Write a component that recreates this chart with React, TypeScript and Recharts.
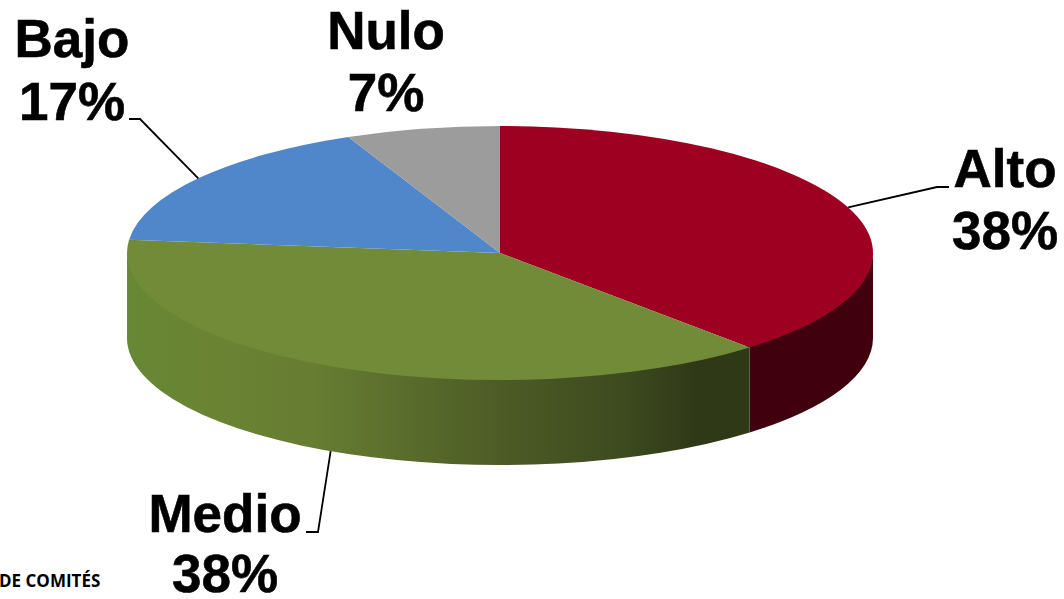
import React from "react";
import { PieChart, Pie } from "recharts";

const categories = ["Alto", "Medio", "Bajo", "Nulo"];
const counts = [23, 23, 10, 4];
const topColors = ["#9e0021", "#728b38", "#5087ca", "#9c9c9c"];
const wallColors = ["#40000e", "url(#medioWall)", "none", "none"];

const rows = categories.map((name, i) => ({ name, value: counts[i], fill: topColors[i], wall: wallColors[i] }));

const WIDTH = 1064;
const HEIGHT = 599;
const CX = 500;
const CY = 253;
const RX = 373;
const RY = 127;
const DEPTH = 85;
const SQUASH = RY / RX;
const RAD = Math.PI / 180;

const labelLayout: Record<string, { x: number; y: number; gap: number; elbow: [number, number]; end: [number, number]; onWall?: boolean }> = {
  Alto: { x: 1005, y: 187, gap: 62, elbow: [937, 187], end: [949, 187] },
  Medio: { x: 225, y: 532, gap: 60, elbow: [318, 532], end: [306, 532], onWall: true },
  Bajo: { x: 72, y: 57, gap: 63, elbow: [140, 119], end: [129, 119] },
  Nulo: { x: 386, y: 49, gap: 62, elbow: [0, 0], end: [0, 0] },
};

function EllipseSector(props: any) {
  const { cx, cy, outerRadius, startAngle, endAngle, fill, payload } = props;
  const rx = outerRadius;
  const ry = outerRadius * SQUASH;
  const px = (a: number) => cx + rx * Math.cos(a * RAD);
  const py = (a: number) => cy - ry * Math.sin(a * RAD);
  const large = Math.abs(endAngle - startAngle) > 180 ? 1 : 0;
  const top = `M${cx},${cy}L${px(startAngle)},${py(startAngle)}A${rx},${ry} 0 ${large} 1 ${px(endAngle)},${py(endAngle)}Z`;
  const a1 = Math.min(startAngle, 0);
  const a2 = Math.max(endAngle, -180);
  const wallFill = payload?.wall ?? props.wall;
  const wall =
    wallFill !== "none" && a1 > a2
      ? `M${px(a1)},${py(a1) - 2}A${rx},${ry} 0 0 1 ${px(a2)},${py(a2) - 2}L${px(a2)},${py(a2) + DEPTH}A${rx},${ry} 0 0 0 ${px(a1)},${py(a1) + DEPTH}Z`
      : null;
  return (
    <g>
      <defs>
        <linearGradient id="medioWall" gradientUnits="userSpaceOnUse" x1={127} x2={750} y1={0} y2={0}>
          <stop offset="0" stopColor="#688835" />
          <stop offset="0.17" stopColor="#6a8233" />
          <stop offset="0.3" stopColor="#667d32" />
          <stop offset="0.45" stopColor="#5a6c2c" />
          <stop offset="0.62" stopColor="#4b5a25" />
          <stop offset="0.8" stopColor="#3d4a1f" />
          <stop offset="0.92" stopColor="#2f3817" />
          <stop offset="1" stopColor="#2f3817" />
        </linearGradient>
      </defs>
      {wall && <path d={wall} fill={wallFill} stroke="none" />}
      <path d={top} fill={fill} stroke="none" />
    </g>
  );
}

function SliceLabel(props: any) {
  const { cx, cy, outerRadius, midAngle, percent, name } = props;
  const layout = labelLayout[name];
  const rx = outerRadius;
  const ry = outerRadius * SQUASH;
  const sx = cx + rx * Math.cos(midAngle * RAD);
  const sy = cy - ry * Math.sin(midAngle * RAD) + (layout.onWall ? DEPTH : 0);
  const pct = `${Math.round(percent * 100)}%`;
  const textStyle = {
    fontFamily: "'Liberation Sans', Arial, sans-serif",
    fontWeight: 700,
    fontSize: 53,
    fill: "#000",
    stroke: "#000",
    strokeWidth: 0.6,
  };
  return (
    <g>
      {name !== "Nulo" && (
        <polyline
          points={`${sx},${sy} ${layout.elbow[0]},${layout.elbow[1]} ${layout.end[0]},${layout.end[1]}`}
          fill="none"
          stroke="#000"
          strokeWidth={1.8}
        />
      )}
      <text x={layout.x} y={layout.y} textAnchor="middle" style={textStyle}>{name}</text>
      <text x={layout.x} y={layout.y + layout.gap} textAnchor="middle" style={textStyle}>{pct}</text>
    </g>
  );
}

export default function App() {
  return (
    <div style={{ position: "absolute", left: 0, top: 0, width: WIDTH, height: HEIGHT, overflow: "hidden", background: "#fff" }}>
      <PieChart width={WIDTH} height={HEIGHT} margin={{ top: 0, right: 0, bottom: 0, left: 0 }}>
        <Pie
          data={rows}
          dataKey="value"
          nameKey="name"
          cx={CX}
          cy={CY}
          innerRadius={0}
          outerRadius={RX}
          startAngle={90}
          endAngle={-270}
          stroke="none"
          isAnimationActive={false}
          shape={EllipseSector}
          label={SliceLabel}
          labelLine={false}
        />
        <text x={-1} y={587} style={{ fontFamily: "'Open Sans', sans-serif", fontWeight: 700, fontSize: 17, fill: "#000" }}>DE COMITÉS</text>
      </PieChart>
    </div>
  );
}
